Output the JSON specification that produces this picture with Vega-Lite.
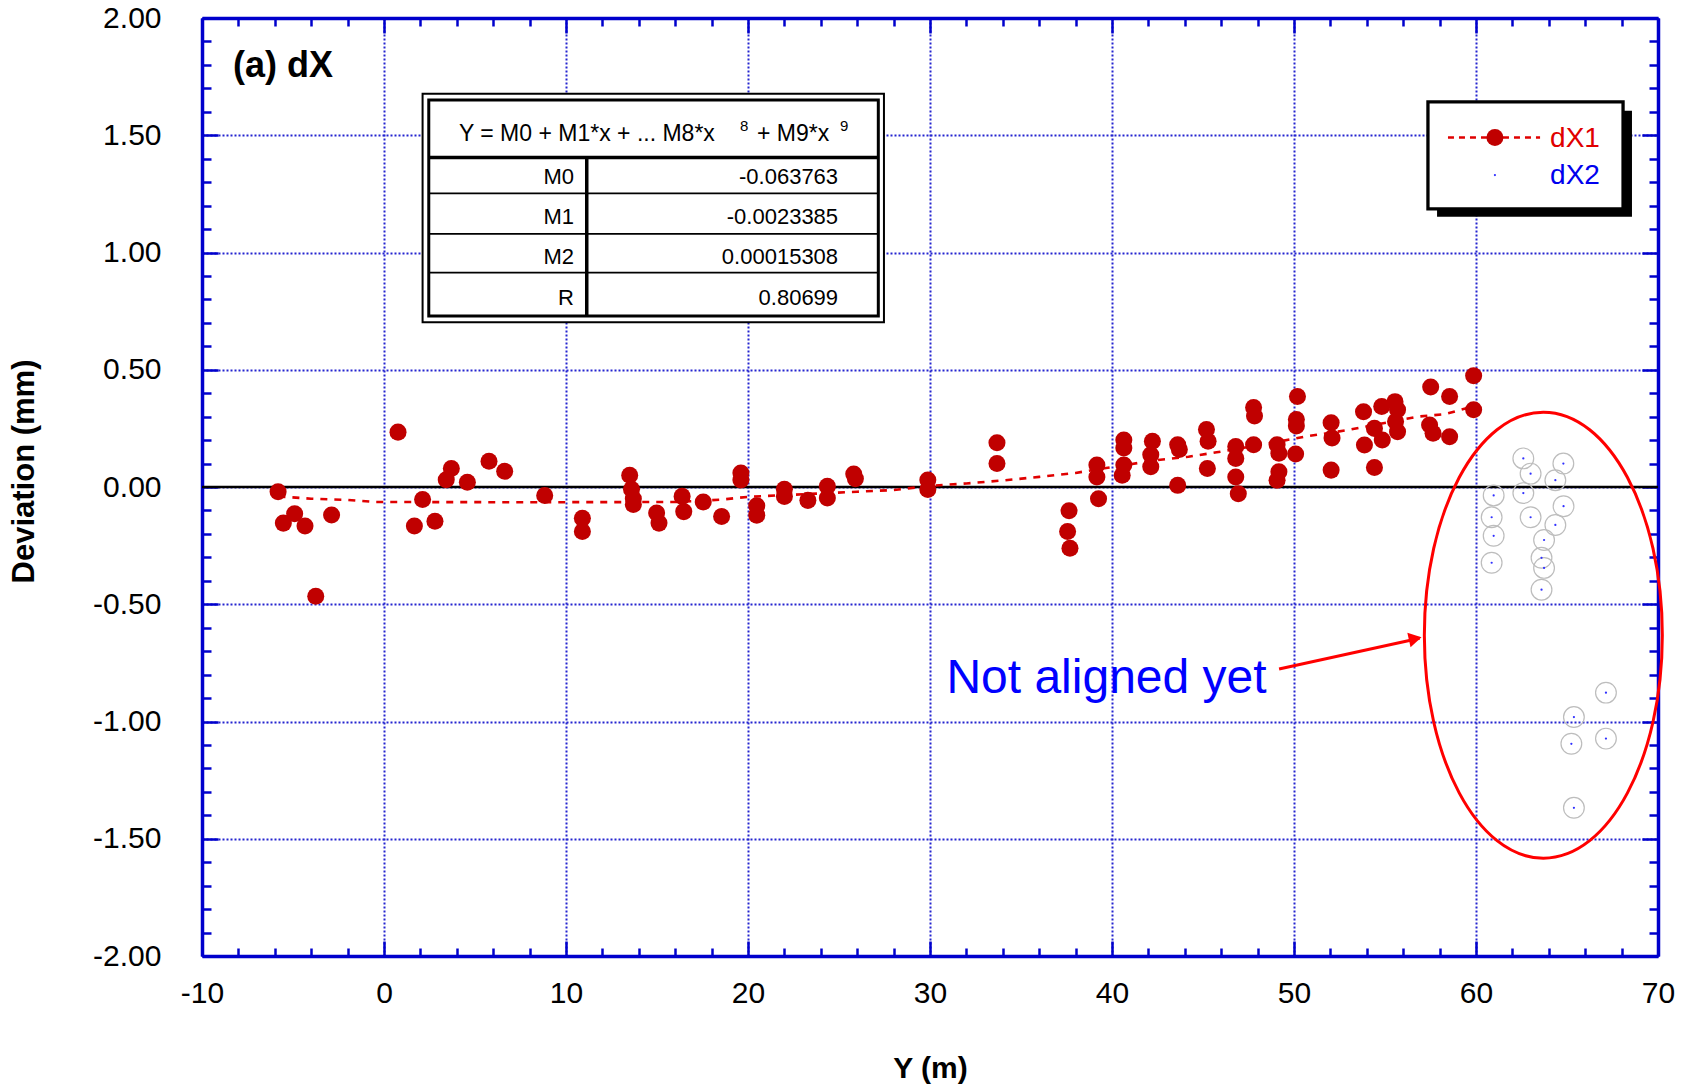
{
  "$schema": "https://vega.github.io/schema/vega-lite/v6.json",
  "width": 1456,
  "height": 938,
  "autosize": {"type": "none"},
  "padding": {"left": 202, "top": 18, "right": 30, "bottom": 128},
  "background": "white",
  "config": {"view": {"stroke": null}, "text": {"font": "Liberation Sans"}},
  "resolve": {"axis": {"x": "independent", "y": "independent"}},
  "layer": [
    {
      "data": {"values": [{"y": 0}]},
      "mark": {"type": "rule", "color": "#000000", "strokeWidth": 2.6},
      "encoding": {
        "y": {"field": "y", "type": "quantitative", "scale": {"domain": [-2, 2], "nice": false, "zero": false}, "axis": null}
      }
    },
    {
      "data": {"values": [
        {"x": -5.8, "y": -0.04}, {"x": -4, "y": -0.05}, {"x": -2, "y": -0.055}, {"x": -0.5, "y": -0.064},
        {"x": 8, "y": -0.065}, {"x": 16, "y": -0.064}, {"x": 18.5, "y": -0.054}, {"x": 20, "y": -0.042},
        {"x": 26, "y": -0.02}, {"x": 28, "y": -0.013}, {"x": 30, "y": 0.005}, {"x": 32, "y": 0.015},
        {"x": 34, "y": 0.028}, {"x": 36, "y": 0.043}, {"x": 38, "y": 0.06}, {"x": 40, "y": 0.085},
        {"x": 42.5, "y": 0.115}, {"x": 44.2, "y": 0.129}, {"x": 45.75, "y": 0.148}, {"x": 48, "y": 0.177},
        {"x": 50.7, "y": 0.216}, {"x": 52.9, "y": 0.242}, {"x": 56.8, "y": 0.3}, {"x": 58.3, "y": 0.311},
        {"x": 59.9, "y": 0.345}
      ]},
      "mark": {"type": "line", "color": "#e00000", "strokeWidth": 2.6, "strokeDash": [7, 7]},
      "encoding": {
        "x": {"field": "x", "type": "quantitative", "scale": {"domain": [-10, 70], "nice": false, "zero": false},
          "axis": {"orient": "bottom", "values": [-10, 0, 10, 20, 30, 40, 50, 60, 70],
            "tickSize": -15, "tickWidth": 2.5, "tickColor": "#0000cc",
            "domain": true, "domainColor": "#0000cc", "domainWidth": 3.5,
            "grid": true, "gridColor": "#2424d0", "gridDash": [2, 2], "gridWidth": 2,
            "labels": true, "labelFont": "Liberation Sans", "labelFontSize": 30, "labelColor": "#000000",
            "labelPadding": 37, "labelFlush": false, "labelOverlap": false, "labelBound": false,
            "labelExpr": "datum.value < 0 ? '-' + format(-datum.value, 'd') : format(datum.value, 'd')",
            "title": "Y (m)", "titleFont": "Liberation Sans", "titleFontSize": 30, "titleFontWeight": "bold",
            "titleColor": "#000000", "titleY": 97, "titleBaseline": "top"}},
        "y": {"field": "y", "type": "quantitative", "scale": {"domain": [-2, 2], "nice": false, "zero": false},
          "axis": {"orient": "left", "values": [-2, -1.5, -1, -0.5, 0, 0.5, 1, 1.5, 2],
            "tickSize": -16, "tickWidth": 2.5, "tickColor": "#0000cc",
            "domain": true, "domainColor": "#0000cc", "domainWidth": 3.5,
            "grid": true, "gridColor": "#2424d0", "gridDash": [2, 2], "gridWidth": 2,
            "labels": true, "labelFont": "Liberation Sans", "labelFontSize": 30, "labelColor": "#000000",
            "labelPadding": 57, "labelFlush": false, "labelOverlap": false, "labelBound": false,
            "labelExpr": "datum.value < 0 ? '-' + format(-datum.value, '.2f') : format(datum.value, '.2f')",
            "title": "Deviation (mm)", "titleFont": "Liberation Sans", "titleFontSize": 31, "titleFontWeight": "bold",
            "titleColor": "#000000", "titleX": -178, "titleY": 453, "titleAngle": 270, "titleBaseline": "middle", "titleAlign": "center"}}
      }
    },
    {
      "data": {"values": [
        {"x": -5.82, "y": -0.02}, {"x": -5.53, "y": -0.154}, {"x": -4.91, "y": -0.114}, {"x": -4.34, "y": -0.166},
        {"x": -3.75, "y": -0.466}, {"x": -2.88, "y": -0.119}, {"x": 0.77, "y": 0.234}, {"x": 1.67, "y": -0.166},
        {"x": 2.12, "y": -0.053}, {"x": 2.8, "y": -0.146}, {"x": 3.42, "y": 0.031}, {"x": 3.7, "y": 0.079},
        {"x": 4.58, "y": 0.02}, {"x": 5.77, "y": 0.11}, {"x": 6.63, "y": 0.067}, {"x": 8.83, "y": -0.036},
        {"x": 10.9, "y": -0.133}, {"x": 10.9, "y": -0.19}, {"x": 13.5, "y": 0.05}, {"x": 13.6, "y": -0.01},
        {"x": 13.7, "y": -0.05}, {"x": 13.7, "y": -0.075}, {"x": 14.98, "y": -0.111}, {"x": 15.11, "y": -0.154},
        {"x": 16.38, "y": -0.04}, {"x": 16.47, "y": -0.105}, {"x": 17.54, "y": -0.064}, {"x": 18.55, "y": -0.126},
        {"x": 19.61, "y": 0.06}, {"x": 19.61, "y": 0.03}, {"x": 20.48, "y": -0.08}, {"x": 20.48, "y": -0.12},
        {"x": 22.0, "y": -0.01}, {"x": 22.0, "y": -0.04}, {"x": 23.29, "y": -0.057}, {"x": 24.36, "y": 0.003},
        {"x": 24.36, "y": -0.047}, {"x": 25.81, "y": 0.055}, {"x": 25.9, "y": 0.035}, {"x": 29.88, "y": 0.03},
        {"x": 29.88, "y": -0.011}, {"x": 33.68, "y": 0.189}, {"x": 33.68, "y": 0.1}, {"x": 37.64, "y": -0.101},
        {"x": 37.56, "y": -0.19}, {"x": 37.69, "y": -0.261}, {"x": 39.17, "y": 0.094}, {"x": 39.17, "y": 0.043},
        {"x": 39.26, "y": -0.05}, {"x": 40.65, "y": 0.2}, {"x": 40.65, "y": 0.166}, {"x": 40.65, "y": 0.094},
        {"x": 40.56, "y": 0.05}, {"x": 42.22, "y": 0.195}, {"x": 42.13, "y": 0.137}, {"x": 42.13, "y": 0.086},
        {"x": 43.61, "y": 0.18}, {"x": 43.7, "y": 0.16}, {"x": 43.61, "y": 0.007}, {"x": 45.19, "y": 0.245},
        {"x": 45.28, "y": 0.195}, {"x": 45.24, "y": 0.079}, {"x": 46.8, "y": 0.173}, {"x": 46.8, "y": 0.122},
        {"x": 46.8, "y": 0.043}, {"x": 46.94, "y": -0.029}, {"x": 47.78, "y": 0.339}, {"x": 47.83, "y": 0.303},
        {"x": 47.78, "y": 0.18}, {"x": 49.07, "y": 0.18}, {"x": 49.17, "y": 0.144}, {"x": 49.17, "y": 0.065},
        {"x": 49.07, "y": 0.029}, {"x": 50.19, "y": 0.386}, {"x": 50.13, "y": 0.288}, {"x": 50.13, "y": 0.26},
        {"x": 50.09, "y": 0.141}, {"x": 52.04, "y": 0.274}, {"x": 52.09, "y": 0.209}, {"x": 52.04, "y": 0.072},
        {"x": 53.82, "y": 0.321}, {"x": 53.87, "y": 0.179}, {"x": 54.42, "y": 0.25}, {"x": 54.42, "y": 0.083},
        {"x": 54.82, "y": 0.343}, {"x": 54.85, "y": 0.2}, {"x": 55.55, "y": 0.364}, {"x": 55.69, "y": 0.329},
        {"x": 55.58, "y": 0.279}, {"x": 55.69, "y": 0.236}, {"x": 57.51, "y": 0.426}, {"x": 57.45, "y": 0.264},
        {"x": 57.64, "y": 0.229}, {"x": 58.55, "y": 0.386}, {"x": 58.55, "y": 0.214}, {"x": 59.87, "y": 0.474},
        {"x": 59.87, "y": 0.329}
      ]},
      "mark": {"type": "circle", "size": 290, "color": "#c00000", "opacity": 1},
      "encoding": {
        "x": {"field": "x", "type": "quantitative", "scale": {"domain": [-10, 70], "nice": false, "zero": false},
          "axis": {"orient": "bottom", "values": [-8, -6, -4, -2, 2, 4, 6, 8, 12, 14, 16, 18, 22, 24, 26, 28, 32, 34, 36, 38, 42, 44, 46, 48, 52, 54, 56, 58, 62, 64, 66, 68],
            "tickSize": -8, "tickWidth": 2.5, "tickColor": "#0000cc", "domain": false, "grid": false, "labels": false, "title": null}},
        "y": {"field": "y", "type": "quantitative", "scale": {"domain": [-2, 2], "nice": false, "zero": false},
          "axis": {"orient": "left", "values": [-1.9, -1.8, -1.7, -1.6, -1.4, -1.3, -1.2, -1.1, -0.9, -0.8, -0.7, -0.6, -0.4, -0.3, -0.2, -0.1, 0.1, 0.2, 0.3, 0.4, 0.6, 0.7, 0.8, 0.9, 1.1, 1.2, 1.3, 1.4, 1.6, 1.7, 1.8, 1.9],
            "tickSize": -9, "tickWidth": 2.5, "tickColor": "#0000cc", "domain": false, "grid": false, "labels": false, "title": null}}
      }
    },
    {
      "data": {"values": [
        {"x": 60.97, "y": -0.036}, {"x": 60.86, "y": -0.129}, {"x": 60.97, "y": -0.208}, {"x": 60.86, "y": -0.323},
        {"x": 62.6, "y": 0.122}, {"x": 63.0, "y": 0.057}, {"x": 62.6, "y": -0.026}, {"x": 63.0, "y": -0.129},
        {"x": 64.8, "y": 0.1}, {"x": 64.36, "y": 0.029}, {"x": 64.81, "y": -0.082}, {"x": 64.36, "y": -0.162},
        {"x": 63.74, "y": -0.226}, {"x": 63.6, "y": -0.302}, {"x": 63.74, "y": -0.345}, {"x": 63.6, "y": -0.438},
        {"x": 67.14, "y": -0.877}, {"x": 65.38, "y": -0.981}, {"x": 65.24, "y": -1.095}, {"x": 67.14, "y": -1.073},
        {"x": 65.38, "y": -1.368}
      ]},
      "layer": [
        {
          "mark": {"type": "point", "shape": "circle", "size": 430, "filled": false, "stroke": "#bdbdbd", "strokeWidth": 1.2, "opacity": 1},
          "encoding": {
            "x": {"field": "x", "type": "quantitative", "scale": {"domain": [-10, 70], "nice": false, "zero": false},
              "axis": {"orient": "top", "values": [-10, 0, 10, 20, 30, 40, 50, 60, 70],
                "tickSize": -15, "tickWidth": 2.5, "tickColor": "#0000cc", "domain": true, "domainColor": "#0000cc", "domainWidth": 3.5,
                "grid": false, "labels": false, "title": null}},
            "y": {"field": "y", "type": "quantitative", "scale": {"domain": [-2, 2], "nice": false, "zero": false},
              "axis": {"orient": "right", "values": [-2, -1.5, -1, -0.5, 0, 0.5, 1, 1.5, 2],
                "tickSize": -16, "tickWidth": 2.5, "tickColor": "#0000cc", "domain": true, "domainColor": "#0000cc", "domainWidth": 3.5,
                "grid": false, "labels": false, "title": null}}
          }
        },
        {
          "mark": {"type": "circle", "size": 5, "color": "#3030ff", "opacity": 1},
          "encoding": {
            "x": {"field": "x", "type": "quantitative", "scale": {"domain": [-10, 70], "nice": false, "zero": false},
              "axis": {"orient": "top", "values": [-8, -6, -4, -2, 2, 4, 6, 8, 12, 14, 16, 18, 22, 24, 26, 28, 32, 34, 36, 38, 42, 44, 46, 48, 52, 54, 56, 58, 62, 64, 66, 68],
                "tickSize": -8, "tickWidth": 2.5, "tickColor": "#0000cc", "domain": false, "grid": false, "labels": false, "title": null}},
            "y": {"field": "y", "type": "quantitative", "scale": {"domain": [-2, 2], "nice": false, "zero": false},
              "axis": {"orient": "right", "values": [-1.9, -1.8, -1.7, -1.6, -1.4, -1.3, -1.2, -1.1, -0.9, -0.8, -0.7, -0.6, -0.4, -0.3, -0.2, -0.1, 0.1, 0.2, 0.3, 0.4, 0.6, 0.7, 0.8, 0.9, 1.1, 1.2, 1.3, 1.4, 1.6, 1.7, 1.8, 1.9],
                "tickSize": -9, "tickWidth": 2.5, "tickColor": "#0000cc", "domain": false, "grid": false, "labels": false, "title": null}}
          }
        }
      ],
      "resolve": {"axis": {"x": "independent", "y": "independent"}}
    },
    {
      "data": {"values": [{"x": 2.12, "x2": 27.47, "y": 0.703, "y2": 1.677}]},
      "mark": {"type": "rect", "fill": "#ffffff", "stroke": "#000000", "strokeWidth": 2},
      "encoding": {
        "x": {"field": "x", "type": "quantitative", "scale": {"domain": [-10, 70], "nice": false, "zero": false}, "axis": null},
        "x2": {"field": "x2"},
        "y": {"field": "y", "type": "quantitative", "scale": {"domain": [-2, 2], "nice": false, "zero": false}, "axis": null},
        "y2": {"field": "y2"}
      }
    },
    {
      "data": {"values": [{"x": 2.46, "x2": 27.16, "y": 0.729, "y2": 1.65}]},
      "mark": {"type": "rect", "fill": "#ffffff", "fillOpacity": 0, "stroke": "#000000", "strokeWidth": 3},
      "encoding": {
        "x": {"field": "x", "type": "quantitative", "scale": {"domain": [-10, 70], "nice": false, "zero": false}, "axis": null},
        "x2": {"field": "x2"},
        "y": {"field": "y", "type": "quantitative", "scale": {"domain": [-2, 2], "nice": false, "zero": false}, "axis": null},
        "y2": {"field": "y2"}
      }
    },
    {
      "data": {"values": [
        {"x": 2.46, "x2": 27.16, "y": 1.405, "y2": 1.405},
        {"x": 11.14, "x2": 11.14, "y": 0.729, "y2": 1.405}
      ]},
      "mark": {"type": "rule", "color": "#000000", "strokeWidth": 3.5},
      "encoding": {
        "x": {"field": "x", "type": "quantitative", "scale": {"domain": [-10, 70], "nice": false, "zero": false}, "axis": null},
        "x2": {"field": "x2"},
        "y": {"field": "y", "type": "quantitative", "scale": {"domain": [-2, 2], "nice": false, "zero": false}, "axis": null},
        "y2": {"field": "y2"}
      }
    },
    {
      "data": {"values": [
        {"x": 2.46, "x2": 27.16, "y": 1.252, "y2": 1.252},
        {"x": 2.46, "x2": 27.16, "y": 1.079, "y2": 1.079},
        {"x": 2.46, "x2": 27.16, "y": 0.914, "y2": 0.914}
      ]},
      "mark": {"type": "rule", "color": "#000000", "strokeWidth": 1.8},
      "encoding": {
        "x": {"field": "x", "type": "quantitative", "scale": {"domain": [-10, 70], "nice": false, "zero": false}, "axis": null},
        "x2": {"field": "x2"},
        "y": {"field": "y", "type": "quantitative", "scale": {"domain": [-2, 2], "nice": false, "zero": false}, "axis": null},
        "y2": {"field": "y2"}
      }
    },
    {
      "data": {"values": [
        {"x": 4.12, "y": 1.505, "text": "Y = M0 + M1*x + ... M8*x"},
        {"x": 20.49, "y": 1.505, "text": "+ M9*x"}
      ]},
      "mark": {"type": "text", "align": "left", "baseline": "middle", "fontSize": 23, "font": "Liberation Sans", "color": "#000000"},
      "encoding": {
        "x": {"field": "x", "type": "quantitative", "scale": {"domain": [-10, 70], "nice": false, "zero": false}, "axis": null},
        "y": {"field": "y", "type": "quantitative", "scale": {"domain": [-2, 2], "nice": false, "zero": false}, "axis": null},
        "text": {"field": "text"}
      }
    },
    {
      "data": {"values": [
        {"x": 19.56, "y": 1.54, "text": "8"},
        {"x": 25.05, "y": 1.54, "text": "9"}
      ]},
      "mark": {"type": "text", "align": "left", "baseline": "middle", "fontSize": 15, "font": "Liberation Sans", "color": "#000000"},
      "encoding": {
        "x": {"field": "x", "type": "quantitative", "scale": {"domain": [-10, 70], "nice": false, "zero": false}, "axis": null},
        "y": {"field": "y", "type": "quantitative", "scale": {"domain": [-2, 2], "nice": false, "zero": false}, "axis": null},
        "text": {"field": "text"}
      }
    },
    {
      "data": {"values": [
        {"x": 10.44, "y": 1.32, "text": "M0"},
        {"x": 10.44, "y": 1.15, "text": "M1"},
        {"x": 10.44, "y": 0.979, "text": "M2"},
        {"x": 10.44, "y": 0.808, "text": "R"},
        {"x": 24.95, "y": 1.32, "text": "-0.063763"},
        {"x": 24.95, "y": 1.15, "text": "-0.0023385"},
        {"x": 24.95, "y": 0.979, "text": "0.00015308"},
        {"x": 24.95, "y": 0.808, "text": "0.80699"}
      ]},
      "mark": {"type": "text", "align": "right", "baseline": "middle", "fontSize": 22, "font": "Liberation Sans", "color": "#000000"},
      "encoding": {
        "x": {"field": "x", "type": "quantitative", "scale": {"domain": [-10, 70], "nice": false, "zero": false}, "axis": null},
        "y": {"field": "y", "type": "quantitative", "scale": {"domain": [-2, 2], "nice": false, "zero": false}, "axis": null},
        "text": {"field": "text"}
      }
    },
    {
      "data": {"values": [{"x": 57.86, "x2": 68.57, "y": 1.152, "y2": 1.604}]},
      "mark": {"type": "rect", "fill": "#000000"},
      "encoding": {
        "x": {"field": "x", "type": "quantitative", "scale": {"domain": [-10, 70], "nice": false, "zero": false}, "axis": null},
        "x2": {"field": "x2"},
        "y": {"field": "y", "type": "quantitative", "scale": {"domain": [-2, 2], "nice": false, "zero": false}, "axis": null},
        "y2": {"field": "y2"}
      }
    },
    {
      "data": {"values": [{"x": 57.36, "x2": 68.08, "y": 1.186, "y2": 1.642}]},
      "mark": {"type": "rect", "fill": "#ffffff", "stroke": "#000000", "strokeWidth": 3.3},
      "encoding": {
        "x": {"field": "x", "type": "quantitative", "scale": {"domain": [-10, 70], "nice": false, "zero": false}, "axis": null},
        "x2": {"field": "x2"},
        "y": {"field": "y", "type": "quantitative", "scale": {"domain": [-2, 2], "nice": false, "zero": false}, "axis": null},
        "y2": {"field": "y2"}
      }
    },
    {
      "data": {"values": [{"x": 58.46, "x2": 63.52, "y": 1.49}]},
      "mark": {"type": "rule", "color": "#e00000", "strokeWidth": 2.5, "strokeDash": [6, 5]},
      "encoding": {
        "x": {"field": "x", "type": "quantitative", "scale": {"domain": [-10, 70], "nice": false, "zero": false}, "axis": null},
        "x2": {"field": "x2"},
        "y": {"field": "y", "type": "quantitative", "scale": {"domain": [-2, 2], "nice": false, "zero": false}, "axis": null}
      }
    },
    {
      "data": {"values": [{"x": 61.04, "y": 1.49}]},
      "mark": {"type": "circle", "size": 290, "color": "#c00000", "opacity": 1},
      "encoding": {
        "x": {"field": "x", "type": "quantitative", "scale": {"domain": [-10, 70], "nice": false, "zero": false}, "axis": null},
        "y": {"field": "y", "type": "quantitative", "scale": {"domain": [-2, 2], "nice": false, "zero": false}, "axis": null}
      }
    },
    {
      "data": {"values": [{"x": 61.04, "y": 1.33}]},
      "mark": {"type": "circle", "size": 5, "color": "#3030ff", "opacity": 1},
      "encoding": {
        "x": {"field": "x", "type": "quantitative", "scale": {"domain": [-10, 70], "nice": false, "zero": false}, "axis": null},
        "y": {"field": "y", "type": "quantitative", "scale": {"domain": [-2, 2], "nice": false, "zero": false}, "axis": null}
      }
    },
    {
      "data": {"values": [{"x": 64.07, "y": 1.486, "text": "dX1"}, {"x": 64.07, "y": 1.325, "text": "dX2"}]},
      "mark": {"type": "text", "align": "left", "baseline": "middle", "fontSize": 28, "font": "Liberation Sans"},
      "encoding": {
        "x": {"field": "x", "type": "quantitative", "scale": {"domain": [-10, 70], "nice": false, "zero": false}, "axis": null},
        "y": {"field": "y", "type": "quantitative", "scale": {"domain": [-2, 2], "nice": false, "zero": false}, "axis": null},
        "text": {"field": "text"},
        "color": {"field": "text", "type": "nominal", "scale": {"domain": ["dX1", "dX2"], "range": ["#e00000", "#0000ee"]}, "legend": null}
      }
    },
    {
      "data": {"values": [{"x": -8.3, "y": 1.794, "text": "(a) dX"}]},
      "mark": {"type": "text", "align": "left", "baseline": "middle", "fontSize": 36, "fontWeight": "bold", "font": "Liberation Sans", "color": "#000000"},
      "encoding": {
        "x": {"field": "x", "type": "quantitative", "scale": {"domain": [-10, 70], "nice": false, "zero": false}, "axis": null},
        "y": {"field": "y", "type": "quantitative", "scale": {"domain": [-2, 2], "nice": false, "zero": false}, "axis": null},
        "text": {"field": "text"}
      }
    },
    {
      "data": {"values": [{"x": 30.9, "y": -0.819, "text": "Not aligned yet"}]},
      "mark": {"type": "text", "align": "left", "baseline": "middle", "fontSize": 48, "font": "Liberation Sans", "color": "#0000ff"},
      "encoding": {
        "x": {"field": "x", "type": "quantitative", "scale": {"domain": [-10, 70], "nice": false, "zero": false}, "axis": null},
        "y": {"field": "y", "type": "quantitative", "scale": {"domain": [-2, 2], "nice": false, "zero": false}, "axis": null},
        "text": {"field": "text"}
      }
    },
    {
      "data": {"values": [{"x": 49.18, "x2": 56.9, "y": -0.776, "y2": -0.645}]},
      "mark": {"type": "rule", "color": "#ff0000", "strokeWidth": 3},
      "encoding": {
        "x": {"field": "x", "type": "quantitative", "scale": {"domain": [-10, 70], "nice": false, "zero": false}, "axis": null},
        "x2": {"field": "x2"},
        "y": {"field": "y", "type": "quantitative", "scale": {"domain": [-2, 2], "nice": false, "zero": false}, "axis": null},
        "y2": {"field": "y2"}
      }
    },
    {
      "data": {"values": [{"x": 56.66, "y": -0.647}]},
      "mark": {"type": "point", "shape": "triangle-right", "size": 220, "filled": true, "color": "#ff0000", "angle": 347.5, "opacity": 1},
      "encoding": {
        "x": {"field": "x", "type": "quantitative", "scale": {"domain": [-10, 70], "nice": false, "zero": false}, "axis": null},
        "y": {"field": "y", "type": "quantitative", "scale": {"domain": [-2, 2], "nice": false, "zero": false}, "axis": null}
      }
    },
    {
      "data": {"values": [{"x": 63.7, "y": -0.632}]},
      "mark": {"type": "point", "shape": "M0,-1C0.2947,-1,0.5336,-0.5523,0.5336,0C0.5336,0.5523,0.2947,1,0,1C-0.2947,1,-0.5336,0.5523,-0.5336,0C-0.5336,-0.5523,-0.2947,-1,0,-1Z", "size": 198916, "filled": false, "stroke": "#ff0000", "strokeWidth": 3, "opacity": 1},
      "encoding": {
        "x": {"field": "x", "type": "quantitative", "scale": {"domain": [-10, 70], "nice": false, "zero": false}, "axis": null},
        "y": {"field": "y", "type": "quantitative", "scale": {"domain": [-2, 2], "nice": false, "zero": false}, "axis": null}
      }
    }
  ]
}
